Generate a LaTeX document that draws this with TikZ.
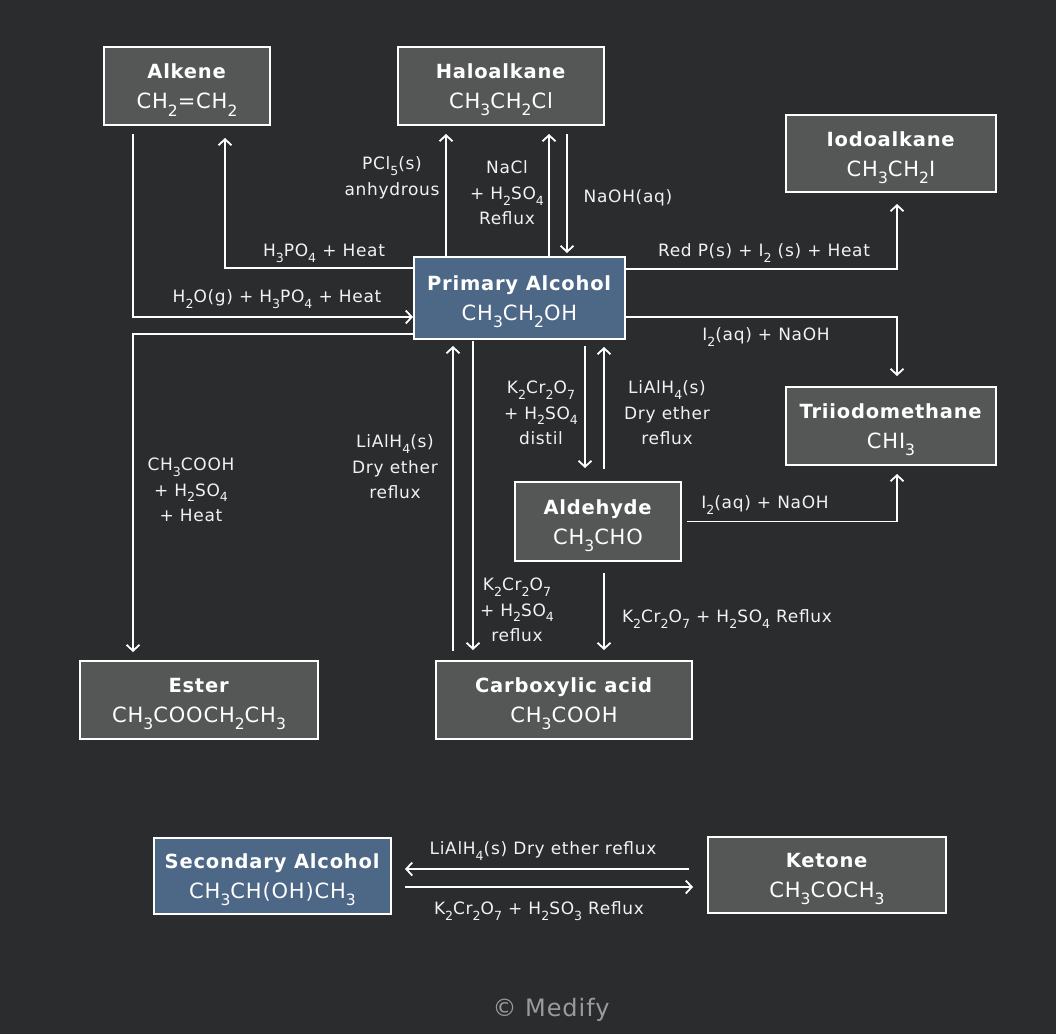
\documentclass[tikz,border=0pt]{standalone}
\usepackage{fontspec}
\setmainfont[LetterSpace=4]{DejaVu Sans}
\usetikzlibrary{arrows.meta,calc}
\definecolor{bg}{HTML}{2B2C2E}
\definecolor{boxg}{HTML}{555756}
\definecolor{boxb}{HTML}{4D6786}
\definecolor{lab}{HTML}{F2F2F2}
\definecolor{copyc}{HTML}{9B9B9B}
\newcommand{\sbs}[1]{\raisebox{-0.34em}{\scalebox{0.74}{#1}}}
\newcommand{\ttl}[1]{{\fontsize{19.5}{30}\selectfont\rule{0pt}{23pt}\textbf{#1}}}
\begin{document}
\begin{tikzpicture}[x=1pt,y=1pt,
  box/.style={draw=white,line width=2pt,fill=boxg,text=white,align=center,inner sep=0pt,font=\fontsize{21}{30}\selectfont},
  bluebox/.style={box,fill=boxb},
  lbl/.style={text=lab,align=center,inner sep=0pt,yshift=-3pt,font=\fontsize{17}{25.5}\selectfont},
  arr/.style={draw=white,line width=1.8pt,-{Straight Barb[length=6pt,width=13pt]}}]
\fill[bg] (0,0) rectangle (1056,-1034);
% boxes
\node[box,minimum width=166pt,minimum height=78pt] (alk) at (187,-86) {\ttl{Alkene}\\CH\sbs{2}=CH\sbs{2}};
\node[box,minimum width=206pt,minimum height=78pt] (hal) at (501,-86) {\ttl{Haloalkane}\\CH\sbs{3}CH\sbs{2}Cl};
\node[box,minimum width=210pt,minimum height=77pt] (iod) at (891,-153.5) {\ttl{Iodoalkane}\\CH\sbs{3}CH\sbs{2}I};
\node[bluebox,minimum width=211pt,minimum height=82pt] (pa) at (519.5,-298) {\ttl{Primary Alcohol}\\CH\sbs{3}CH\sbs{2}OH};
\node[box,minimum width=210pt,minimum height=78pt] (tri) at (891,-426) {\ttl{Triiodomethane}\\CHI\sbs{3}};
\node[box,minimum width=166pt,minimum height=79pt] (ald) at (598,-521.5) {\ttl{Aldehyde}\\CH\sbs{3}CHO};
\node[box,minimum width=238pt,minimum height=78pt] (est) at (199,-700) {\ttl{Ester}\\CH\sbs{3}COOCH\sbs{2}CH\sbs{3}};
\node[box,minimum width=256pt,minimum height=78pt] (carb) at (564,-700) {\ttl{Carboxylic acid}\\CH\sbs{3}COOH};
\node[bluebox,minimum width=237pt,minimum height=76pt] (sec) at (272.5,-876) {\ttl{Secondary Alcohol}\\CH\sbs{3}CH(OH)CH\sbs{3}};
\node[box,minimum width=238pt,minimum height=76pt] (ket) at (827,-875) {\ttl{Ketone}\\CH\sbs{3}COCH\sbs{3}};
% connectors
\draw[arr] ($(pa.north west)+(0,-12)$) -| ($(alk.south)+(38,-12)$);
\draw[arr] ($(alk.south)+(-54,-8)$) |- ($(pa.west)+(0,-19)$);
\draw[arr] ($(pa.north)+(-73.5,0)$) -- ($(pa.north |- hal.south)+(-73.5,-8)$);
\draw[arr] ($(pa.north)+(29.5,0)$) -- ($(pa.north |- hal.south)+(29.5,-8)$);
\draw[arr] ($(pa.north |- hal.south)+(47.5,-8)$) -- ($(pa.north)+(47.5,3)$);
\draw[arr] ($(pa.east)+(0,29)$) -| ($(iod.south)+(6,-11)$);
\draw[arr] ($(pa.east)+(0,-19)$) -| ($(tri.north)+(6,10)$);
\draw[arr] ($(pa.south)+(65.5,-6)$) -- ($(ald.north)+(-13,13)$);
\draw[arr] ($(ald.north)+(6,12)$) -- ($(pa.south)+(84.5,-7)$);
\draw[arr] ($(ald.east)+(5,0)$) -| ($(tri.south)+(6,-8)$);
\draw[arr] ($(ald.south)+(6,-11)$) -- ($(carb.north)+(40,10)$);
\draw[arr] ($(pa.south)+(-46.5,-1)$) -- ($(carb.north)+(-91,10)$);
\draw[arr] ($(carb.north)+(-111,9)$) -- ($(pa.south)+(-66.5,-6)$);
\draw[arr] ($(pa.west)+(0,-36)$) -| ($(est.north)+(-66,8)$);
\draw[arr] ($(ket.west)+(-18,6)$) -- ($(sec.east)+(13,7)$);
\draw[arr] ($(sec.east)+(13,-11)$) -- ($(ket.west)+(-14,-12)$);
% labels
\node[lbl] (l1) at (324,-250) {H\sbs{3}PO\sbs{4} + Heat};
\node[lbl] (l2) at (277,-296) {H\sbs{2}O(g) + H\sbs{3}PO\sbs{4} + Heat};
\node[lbl] (l3) at (392,-175) {PCl\sbs{5}(s)\\anhydrous};
\node[lbl] (l4) at (507,-190) {NaCl\\+ H\sbs{2}SO\sbs{4}\\Reflux};
\node[lbl] (l5) at (628,-195) {NaOH(aq)};
\node[lbl] (l6) at (764,-250) {Red P(s) + I\sbs{2} (s) + Heat};
\node[lbl] (l7) at (766,-334) {I\sbs{2}(aq) + NaOH};
\node[lbl] (l8) at (541,-410) {K\sbs{2}Cr\sbs{2}O\sbs{7}\\+ H\sbs{2}SO\sbs{4}\\distil};
\node[lbl] (l9) at (667,-410) {LiAlH\sbs{4}(s)\\Dry ether\\reflux};
\node[lbl] (l10) at (765,-502) {I\sbs{2}(aq) + NaOH};
\node[lbl] (l11) at (727,-616) {K\sbs{2}Cr\sbs{2}O\sbs{7} + H\sbs{2}SO\sbs{4} Reflux};
\node[lbl] (l12) at (517,-607) {K\sbs{2}Cr\sbs{2}O\sbs{7}\\+ H\sbs{2}SO\sbs{4}\\reflux};
\node[lbl] (l13) at (395,-464) {LiAlH\sbs{4}(s)\\Dry ether\\reflux};
\node[lbl] (l14) at (191,-487) {CH\sbs{3}COOH\\+ H\sbs{2}SO\sbs{4}\\+ Heat};
\node[lbl] (l15) at (543,-848) {LiAlH\sbs{4}(s) Dry ether reflux};
\node[lbl] (l16) at (539,-908) {K\sbs{2}Cr\sbs{2}O\sbs{7} + H\sbs{2}SO\sbs{3} Reflux};
\node[text=copyc,inner sep=0pt,font=\fontsize{24}{28}\selectfont] (cp) at (551,-1010) {© Medify};
\end{tikzpicture}
\end{document}
